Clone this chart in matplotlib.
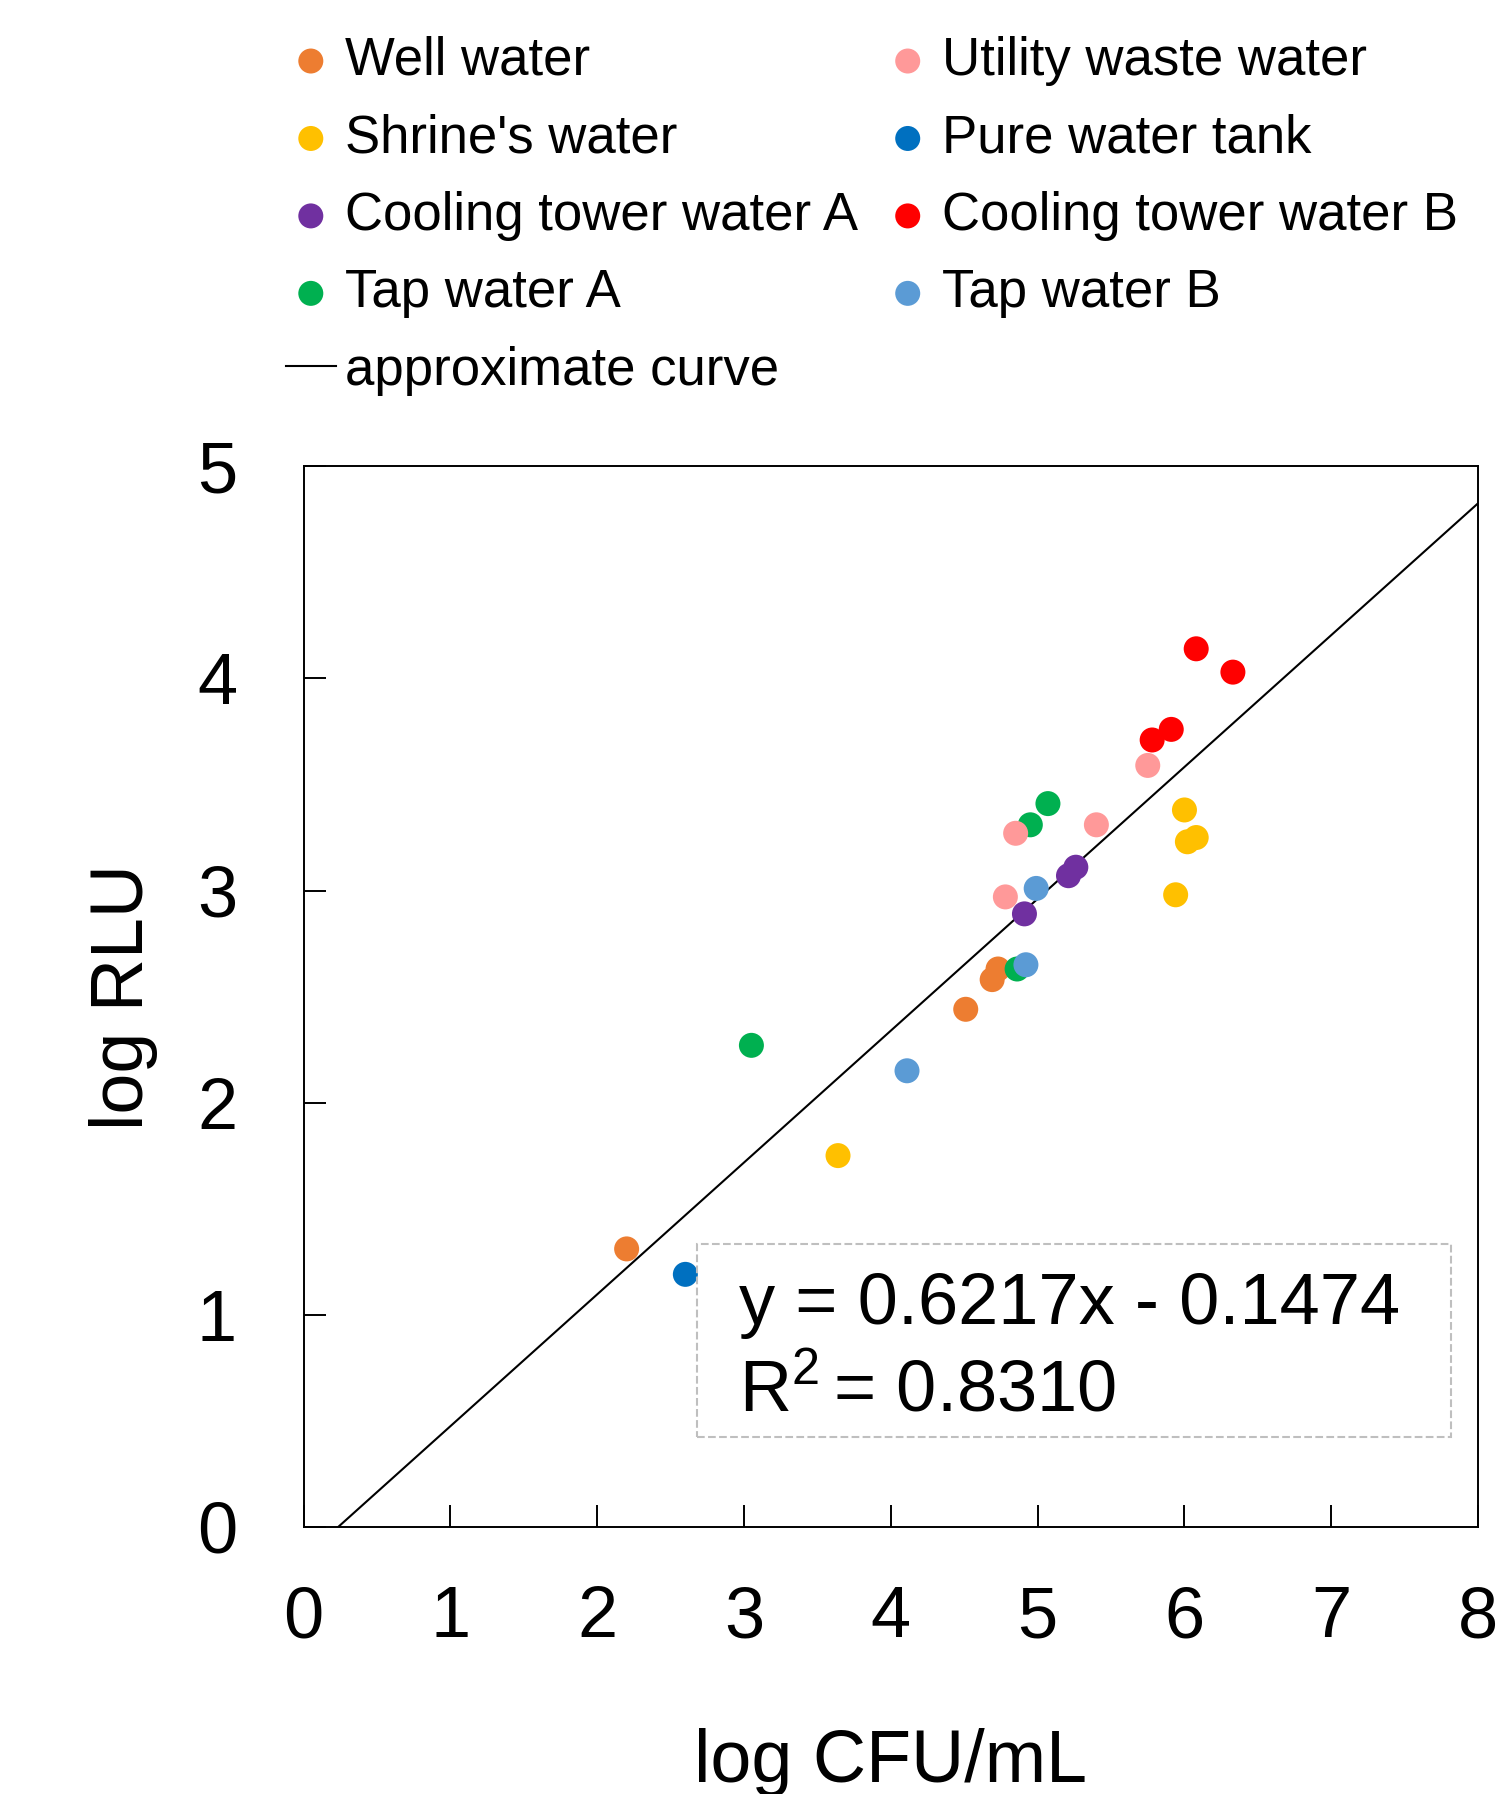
import matplotlib
matplotlib.use("Agg")
import matplotlib.pyplot as plt
import numpy as np
from matplotlib.patches import Rectangle

plt.rcParams['font.family'] = ['Liberation Sans', 'DejaVu Sans']
plt.rcParams['mathtext.fontset'] = 'custom'
plt.rcParams['mathtext.rm'] = 'Liberation Sans'

# values (log CFU/mL, log RLU)
well_x = [2.20, 4.51, 4.69, 4.73]
well_y = [1.31, 2.44, 2.58, 2.63]
shrine_x = [3.64, 6.00, 6.08, 6.02, 5.94]
shrine_y = [1.75, 3.38, 3.25, 3.23, 2.98]
cool_a_x = [4.91, 5.21, 5.26]
cool_a_y = [2.89, 3.07, 3.11]
tap_a_x = [3.05, 4.86, 4.95, 5.07]
tap_a_y = [2.27, 2.63, 3.31, 3.41]
utility_x = [4.78, 4.85, 5.40, 5.75]
utility_y = [2.97, 3.27, 3.31, 3.59]
pure_x = [2.60]
pure_y = [1.19]
cool_b_x = [5.78, 5.91, 6.08, 6.33]
cool_b_y = [3.71, 3.76, 4.14, 4.03]
tap_b_x = [4.11, 4.92, 4.99]
tap_b_y = [2.15, 2.65, 3.01]

slope = 0.6217
intercept = -0.1474
r2 = 0.8310

series = [
    ("Well water", well_x, well_y, "#ED7D31"),
    ("Shrine's water", shrine_x, shrine_y, "#FFC000"),
    ("Cooling tower water A", cool_a_x, cool_a_y, "#7030A0"),
    ("Tap water A", tap_a_x, tap_a_y, "#00B050"),
    ("Utility waste water", utility_x, utility_y, "#FF9999"),
    ("Pure water tank", pure_x, pure_y, "#0070C0"),
    ("Cooling tower water B", cool_b_x, cool_b_y, "#FF0000"),
    ("Tap water B", tap_b_x, tap_b_y, "#5B9BD5"),
]

fig = plt.figure(figsize=(14.96, 17.94), dpi=100)
ax = fig.add_axes([0.203, 0.149, 0.785, 0.591])

handles = []
for name, xs, ys, col in series:
    h = ax.scatter(xs, ys, s=324, c=col, edgecolors='none', label=name, zorder=3)
    handles.append(h)

fx = np.array([0, 8])
line, = ax.plot(fx, slope * fx + intercept, color='black', lw=1.5,
                label='approximate curve', zorder=2)

ax.set_xlim(0, 8)
ax.set_ylim(0, 5)
ax.set_xticks(range(0, 9))
ax.set_yticks(range(0, 6))
ax.tick_params(direction='in', length=16, width=1.4, labelsize=52)
ax.tick_params(axis='x', pad=42)
ax.tick_params(axis='y', pad=48)
for sp in ax.spines.values():
    sp.set_linewidth(1.4)

ax.set_xlabel("log CFU/mL", fontsize=53)
ax.set_ylabel("log RLU", fontsize=53)
ax.xaxis.set_label_coords(0.5, -0.19)
ax.yaxis.set_label_coords(-0.124, 0.5)

# equation box
ax.add_patch(Rectangle((0.335, 0.085), 0.642, 0.182, transform=ax.transAxes,
                       fill=False, ec='#BFBFBF', ls='--', lw=1.5, zorder=4))
ax.text(0.371, 0.191, "y = %.4fx - %.4f" % (slope, -intercept), transform=ax.transAxes,
        fontsize=52, va='baseline', ha='left')
ax.text(0.371, 0.108, "R$^2\\,$= %.4f" % r2, transform=ax.transAxes,
        fontsize=52, va='baseline', ha='left')

order = handles[:4] + [line] + handles[4:]
fig.legend(handles=order, labels=[h.get_label() for h in order], ncol=2,
           loc='upper left', bbox_to_anchor=(0.191, 0.980), frameon=False,
           fontsize=38, borderpad=0, borderaxespad=0, handlelength=0.95,
           handletextpad=0.17, columnspacing=0.47, labelspacing=0.52)

fig.savefig("out.png", dpi=100)
